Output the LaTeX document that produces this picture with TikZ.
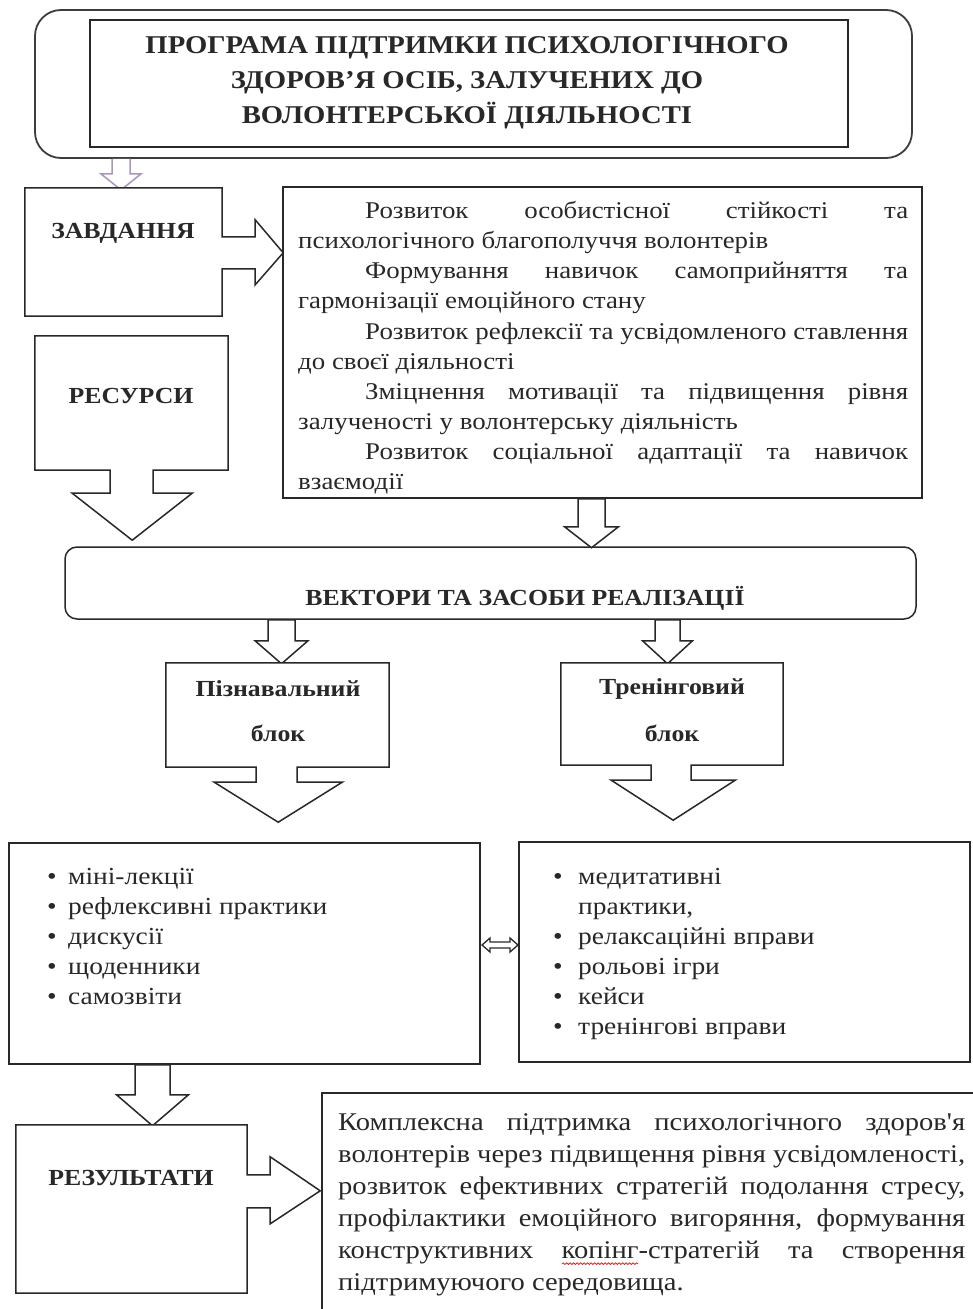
\documentclass[tikz,border=0pt]{standalone}
\usepackage{fontspec}
\setmainfont{Liberation Serif}[FakeStretch=1.12]
\newfontfamily\plainserif{Liberation Serif}[FakeStretch=1.12]
\usetikzlibrary{calc,decorations.pathmorphing}
\definecolor{lav}{RGB}{168,150,190}
\definecolor{ink}{RGB}{40,40,40}
\newcommand\titlefont{\fontsize{25.6}{35}\selectfont\bfseries}
\newcommand\lblfont{\fontsize{23}{28}\selectfont\bfseries}
\newcommand\bodyfont{\fontsize{24}{30.1}\selectfont}
\newcommand\listfont{\fontsize{24.5}{30}\selectfont}
\newcommand\resfont{\fontsize{25.5}{32.1}\selectfont}
\newcommand\jline[2]{\makebox[#1][s]{#2}}
\newcommand\wavyline{\tikz[baseline=0pt]\draw[red, line width=0.7pt, decorate, decoration={snake, amplitude=0.9pt, segment length=3.5pt}] (0pt,-5pt) -- (76pt,-5pt);}
\tikzset{
  plainbox/.style={draw=ink, line width=1.5pt, inner sep=0pt},
  hidbox/.style={inner sep=0pt},
  blk/.style={draw=ink, line width=1.5pt, line join=miter, fill=white},
  lbl/.style={font=\lblfont, inner sep=0pt, text=ink},
  txt/.style={anchor=north west, align=left, inner sep=0pt, text=ink},
  pics/darr/.style args={#1/#2/#3/#4}{code={
    \draw[blk] (-#1,0) -- (-#1,#3) -- (-#2,#3) -- (0,#4) -- (#2,#3) -- (#1,#3) -- (#1,0) -- cycle;}},
}
\begin{document}
\begin{tikzpicture}[x=1pt,y=-1pt]
\fill[white] (0,0) rectangle (973,1309);
\useasboundingbox (0,0) rectangle (973,1309);

% title
\node (prog) [draw=ink!90, line width=1.8pt, rounded corners=26pt, minimum width=877pt, minimum height=148pt] at (473.5,84) {};
\node (titlebox) [plainbox, minimum width=758pt, minimum height=127pt] at (469,83.5) {};
\node (title) [inner sep=0pt, align=center, font=\titlefont, text=ink] at (467,83)
  {ПРОГРАМА ПІДТРИМКИ ПСИХОЛОГІЧНОГО\\ЗДОРОВ’Я ОСІБ, ЗАЛУЧЕНИХ ДО\\ВОЛОНТЕРСЬКОЇ ДІЯЛЬНОСТІ};

% ЗАВДАННЯ
\node (zav) [hidbox, minimum width=197pt, minimum height=128pt] at (123.5,252) {};
\draw[lav, line width=1.5pt, fill=white, line join=miter] ($(prog.south)+(-361.5,0)$) -- ++(0,15) -- ++(-11,0) -- ++(20,16) -- ++(20,-16) -- ++(-11,0) -- ++(0,-15);
\draw[blk] (zav.north west) -- (zav.north east) -- ++(0,49) -- ++(33,0) -- ++(0,-17) -- ++(28,33) -- ++(-28,32) -- ++(0,-16) -- ++(-33,0) -- (zav.south east) -- (zav.south west) -- cycle;
\node (zavt) [lbl] at (123,233) {ЗАВДАННЯ};

% task box
\node (task) [plainbox, minimum width=639pt, minimum height=311pt] at (602.5,342.5) {};
\node (tasktext) [txt, font=\bodyfont] at (298,197.4) {%
\strut\hspace*{67pt}\jline{543pt}{Розвиток особистісної стійкості та}\\
психологічного благополуччя волонтерів\\
\hspace*{67pt}\jline{543pt}{Формування навичок самоприйняття та}\\
гармонізації емоційного стану\\
\hspace*{67pt}\jline{543pt}{Розвиток рефлексії та усвідомленого ставлення}\\
до своєї діяльності\\
\hspace*{67pt}\jline{543pt}{Зміцнення мотивації та підвищення рівня}\\
залученості у волонтерську діяльність\\
\hspace*{67pt}\jline{543pt}{Розвиток соціальної адаптації та навичок}\\
взаємодії};

% РЕСУРСИ
\node (res) [hidbox, minimum width=193pt, minimum height=134pt] at (131.5,403) {};
\draw[blk] (res.north west) -- (res.north east) -- (res.south east) -- ++(-75,0) -- ++(0,23) -- ++(39,0) -- ++(-60,47) -- ++(-60,-47) -- ++(38,0) -- ++(0,-23) -- (res.south west) -- cycle;
\node (rest) [lbl] at (131,396) {РЕСУРСИ};

% vectors bar
\node (vect) [plainbox, rounded corners=12pt, minimum width=851pt, minimum height=72pt] at (490.5,583) {};
\node (vectt) [lbl] at (525,598) {ВЕКТОРИ ТА ЗАСОБИ РЕАЛІЗАЦІЇ};
\pic at ($(task.south)+(-11,0)$) {darr=13.5/27/28/49};
\pic at ($(vect.south)+(-209,0)$) {darr=13.5/26.5/21/44};
\pic at ($(vect.south)+(177,0)$) {darr=12.5/25/21/44};

% blocks
\node (pizn) [hidbox, minimum width=223pt, minimum height=104pt] at (277.5,715) {};
\draw[blk] (pizn.north west) -- (pizn.north east) -- (pizn.south east) -- ++(-92,0) -- ++(0,15) -- ++(45,0) -- ++(-64,40) -- ++(-64,-40) -- ++(42,0) -- ++(0,-15) -- (pizn.south west) -- cycle;
\node (pizn1) [lbl] at (278,689) {Пізнавальний};
\node (pizn2) [lbl] at (278,733) {блок};

\node (tren) [hidbox, minimum width=222pt, minimum height=102pt] at (672,714) {};
\draw[blk] (tren.north west) -- (tren.north east) -- (tren.south east) -- ++(-92,0) -- ++(0,15) -- ++(44,0) -- ++(-62,40) -- ++(-62,-40) -- ++(40,0) -- ++(0,-15) -- (tren.south west) -- cycle;
\node (tren1) [lbl] at (672,689) {Тренінговий};
\node (tren2) [lbl] at (672,733) {блок};

% lists
\node (listL) [plainbox, minimum width=471pt, minimum height=221pt] at (244.5,953.5) {};
\node (listLt) [txt, font=\listfont] at (47,863.5) {%
\strut\makebox[21pt][l]{•}міні-лекції\\
\makebox[21pt][l]{•}рефлексивні практики\\
\makebox[21pt][l]{•}дискусії\\
\makebox[21pt][l]{•}щоденники\\
\makebox[21pt][l]{•}самозвіти};
\node (listR) [plainbox, minimum width=451pt, minimum height=220pt] at (744.5,952) {};
\node (listRt) [txt, font=\listfont] at (553,863.5) {%
\strut\makebox[25pt][l]{•}медитативні\\
\hspace*{25pt}практики,\\
\makebox[25pt][l]{•}релаксаційні вправи\\
\makebox[25pt][l]{•}рольові ігри\\
\makebox[25pt][l]{•}кейси\\
\makebox[25pt][l]{•}тренінгові вправи};
\coordinate (dmid) at (500,945);
\draw[blk, line width=1.3pt] ($(dmid)+(-18,0)$) -- ++(8,-7) -- ++(0,4) -- ++(20,0) -- ++(0,-4) -- ++(8,7) -- ++(-8,7) -- ++(0,-4) -- ++(-20,0) -- ++(0,4) -- cycle;

% results
\pic at ($(listL.south)+(-92,0)$) {darr=17.5/36/30/61};
\node (rez) [hidbox, minimum width=231pt, minimum height=168pt] at (131.5,1209) {};
\draw[blk] (rez.north west) -- (rez.north east) -- ++(0,50) -- ++(23,0) -- ++(0,-18) -- ++(50,34) -- ++(-50,33) -- ++(0,-16) -- ++(-23,0) -- (rez.south east) -- (rez.south west) -- cycle;
\node (rezt) [lbl] at (131,1178) {РЕЗУЛЬТАТИ};

\coordinate (resTL) at (322,1093);
\draw[draw=ink, line width=1.5pt] (resTL |- 0,1312) -- (resTL) -- (976,1093);
\node (result) [txt, font=\resfont] at (338,1107.6) {%
\strut\jline{627pt}{Комплексна підтримка психологічного здоров{\plainserif'}я}\\
\jline{627pt}{волонтерів через підвищення рівня усвідомленості,}\\
\jline{627pt}{розвиток ефективних стратегій подолання стресу,}\\
\jline{627pt}{профілактики емоційного вигоряння, формування}\\
\jline{627pt}{конструктивних \rlap{\wavyline}копінг-стратегій та створення}\\
підтримуючого середовища.};
\end{tikzpicture}
\end{document}
